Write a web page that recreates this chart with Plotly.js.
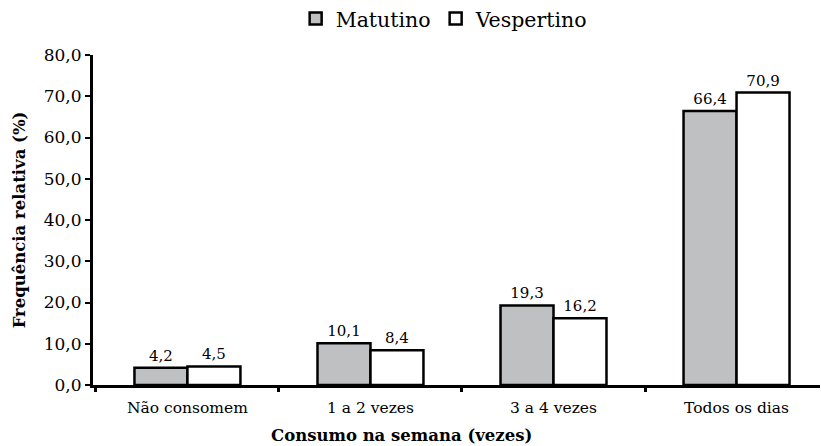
<!DOCTYPE html>
<html><head><meta charset="utf-8">
<script src="https://cdn.plot.ly/plotly-3.0.1.min.js"></script>
<style>html,body{margin:0;padding:0;background:#fff}</style>
</head><body>
<div id="chart" style="width:821px;height:446px"></div>
<script>
const categories = ["Não consomem", "1 a 2 vezes", "3 a 4 vezes", "Todos os dias"];
const matutino = [4.2, 10.1, 19.3, 66.4];
const vespertino = [4.5, 8.4, 16.2, 70.9];
const yTicks = [0, 10, 20, 30, 40, 50, 60, 70, 80];
const xTitle = "Consumo na semana (vezes)";
const yTitle = "Frequência relativa (%)";

const FONT = "DejaVu Serif, Liberation Serif, serif";

const traces = [
  {type: "bar", name: "Matutino", x: categories, y: matutino,
   marker: {color: "#bfc0c2", line: {color: "#000", width: 2.5}},
   text: matutino, texttemplate: "%{y:.1f}", textposition: "outside",
   textfont: {family: FONT, size: 15, color: "#000"}, cliponaxis: false},
  {type: "bar", name: "Vespertino", x: categories, y: vespertino,
   marker: {color: "#ffffff", line: {color: "#000", width: 2.5}},
   text: vespertino, texttemplate: "%{y:.1f}", textposition: "outside",
   textfont: {family: FONT, size: 15, color: "#000"}, cliponaxis: false}
];

const layout = {
  width: 821, height: 446,
  margin: {l: 93, r: 1, t: 55, b: 61, autoexpand: false},
  paper_bgcolor: "#fff", plot_bgcolor: "#fff",
  separators: ",.",
  font: {family: FONT, color: "#000"},
  barmode: "group", bargap: 0.421, bargroupgap: 0,
  showlegend: true,
  legend: {orientation: "h", x: 0.483, xanchor: "center", yref: "container", y: 0.958, yanchor: "middle",
           font: {family: FONT, size: 20.5, color: "#000"}, traceorder: "normal"},
  xaxis: {
    type: "category", range: [-0.516, 3.456],
    showline: true, linecolor: "#000", linewidth: 3,
    ticks: "outside", tickson: "boundaries", ticklen: 4, tickwidth: 3, tickcolor: "#000",
    ticklabelstandoff: 6,
    tickfont: {family: FONT, size: 15.5, color: "#000"},
    showgrid: false, zeroline: false
  },
  yaxis: {
    range: [0, 80], tickvals: yTicks, tickformat: ".1f",
    showline: true, linecolor: "#000", linewidth: 3,
    ticks: "outside", ticklen: 5, tickwidth: 2, tickcolor: "#000",
    tickfont: {family: FONT, size: 17, color: "#000"},
    showgrid: false, zeroline: false,
    title: {text: "<b>" + yTitle + "</b>", font: {family: FONT, size: 16.5, color: "#000"}, standoff: 14}
  },
  annotations: [
    {text: "<b>" + xTitle + "</b>", xref: "paper", yref: "paper", x: 0.425, y: -0.152,
     xanchor: "center", yanchor: "middle", showarrow: false,
     font: {family: FONT, size: 16.5, color: "#000"}}
  ]
};

Plotly.newPlot("chart", traces, layout, {displayModeBar: false, staticPlot: true});
</script>
</body></html>
